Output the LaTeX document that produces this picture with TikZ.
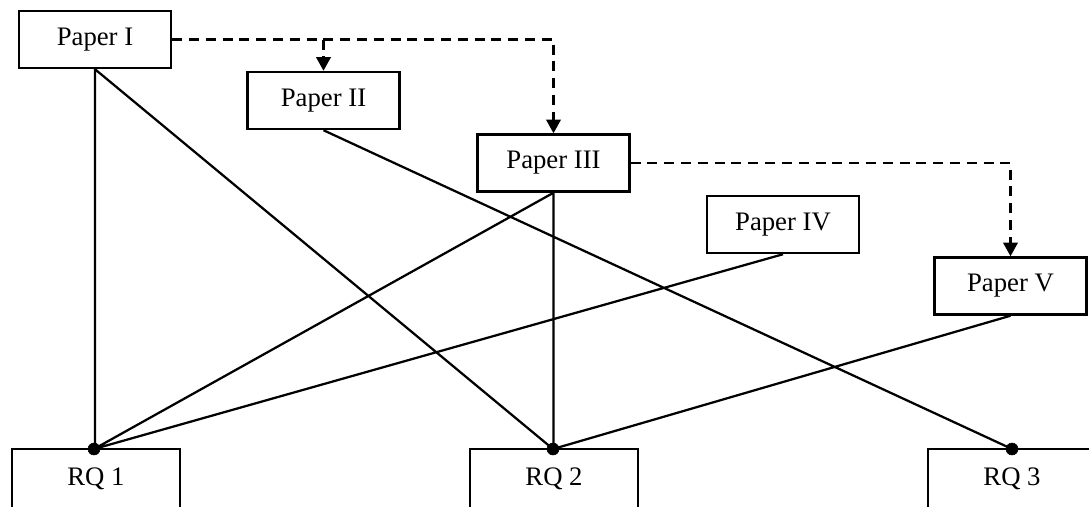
\documentclass[tikz,border=0pt]{standalone}
\usepackage{fontspec}
\setmainfont{Liberation Serif}
\usetikzlibrary{calc,positioning,arrows.meta}
\tikzset{
  paper/.style={rectangle,draw=black,line width=1.6pt,minimum width=3.8cm,minimum height=1.43cm,inner sep=0pt,font=\fontsize{19}{23}\selectfont},
  rq/.style={rectangle,draw=black,line width=1.6pt,minimum width=4.2cm,minimum height=1.5cm,inner sep=0pt,font=\fontsize{19}{23}\selectfont},
  dot/.style={circle,draw=black,fill=black,minimum size=0.3cm,inner sep=0pt},
  line/.style={draw,line width=1.6pt},
  dline/.style={draw,line width=1.6pt,dash pattern=on 0.25cm off 0.17cm,-{Triangle[length=0.34cm,width=0.36cm]}},
}
\begin{document}
\begin{tikzpicture}[x=0.025cm,y=-0.025cm]
  \clip (0,0) rectangle (1089,506);
  \node[paper] (P1) at (95,39.5) {Paper I};
  \node[paper] (P2) at (323.5,100.5) {Paper II};
  \node[paper] (P3) at (553.5,163) {Paper III};
  \node[paper] (P4) at (783,224.5) {Paper IV};
  \node[paper] (P5) at (1010.5,286) {Paper V};
  \node[rq] (RQ1) at (96,479) {RQ 1};
  \node[rq] (RQ2) at (554,479) {RQ 2};
  \node[rq] (RQ3) at (1012,479) {RQ 3};
  \node[dot] (D1) at (94,449) {};
  \node[dot] (D2) at (553,449) {};
  \node[dot] (D3) at (1012,449) {};
  % papers to research questions
  \path[line]
    (P1.south) -- (P1.south |- D1.center)
    (P1.south) -- (D2.center)
    (P2.south) -- (D3.center)
    (P3.south) -- (D1.center)
    (P3.south) -- (D3.center -| P3.south)
    (P4.south) -- (D1.center)
    (P5.south) -- (D2.center);
  % follow-up relations
  \coordinate (B2) at (P1.east -| P2.north);
  \path[dline] (P1.east) -| (P3.north);
  \path[dline] (B2) -- (P2.north);
  \path[dline] (P3.east) -| (P5.north);
\end{tikzpicture}
\end{document}
